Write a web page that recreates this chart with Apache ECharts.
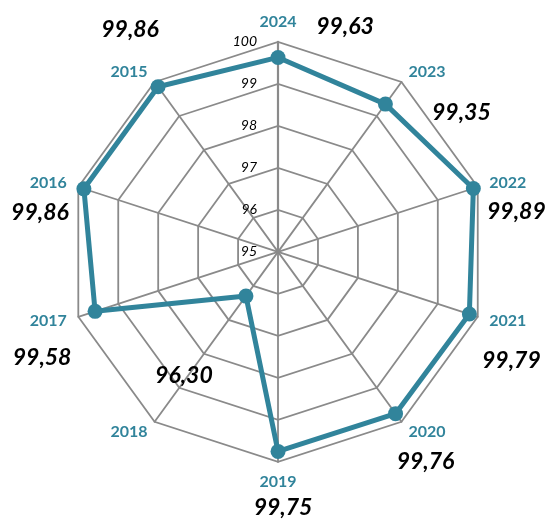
<!DOCTYPE html>
<html>
<head>
<meta charset="utf-8">
<script src="https://cdn.jsdelivr.net/npm/echarts@6/dist/echarts.min.js"></script>
<style>
html,body{margin:0;padding:0;background:#fff;}
#chart{width:550px;height:521px;}
</style>
</head>
<body>
<div id="chart"></div>
<script>
// ---- data ----
const years = ['2015', '2016', '2017', '2018', '2019', '2020', '2021', '2022', '2023', '2024'];
const values = [99.86, 99.86, 99.58, 96.30, 99.75, 99.76, 99.79, 99.89, 99.35, 99.63];
const tickValues = [95, 96, 97, 98, 99, 100];

// ---- layout / style (not data) ----
const labelOffsets = [[-28, -57], [-44, 24], [-53, 46], [-62, 80], [5, 56], [30, 48], [42, 47], [43, 23], [76, 8], [67, -31]];
const teal = '#31849B';
const gridGray = '#8a8a8a';
const center = ['50.55%', '48.35%'];
const radius = 210;
const fmt = v => v.toFixed(2).replace('.', ',');

const chart = echarts.init(document.getElementById('chart'), null, {renderer: 'canvas'});
const minV = tickValues[0], maxV = tickValues[tickValues.length - 1];

const option = {
  animation: false,
  backgroundColor: '#fff',
  radar: [
    {
      center: center,
      radius: radius,
      startAngle: 126,
      shape: 'polygon',
      splitNumber: tickValues.length - 1,
      indicator: years.map(y => ({name: y, min: minV, max: maxV})),
      axisName: {color: teal, fontFamily: 'Lato', fontWeight: 'bold', fontSize: 16},
      nameGap: 12,
      axisLine: {show: true, lineStyle: {color: gridGray, width: 1.8}},
      splitLine: {show: true, lineStyle: {color: gridGray, width: 1.8}},
      splitArea: {show: false},
      axisTick: {show: false},
      axisLabel: {show: false}
    },
    {
      center: center,
      radius: radius,
      startAngle: 90,
      shape: 'polygon',
      splitNumber: tickValues.length - 1,
      indicator: [{name: '', min: minV, max: maxV}],
      axisName: {show: false},
      axisLine: {show: true, lineStyle: {color: gridGray, width: 2.2}},
      splitLine: {show: false},
      splitArea: {show: false},
      axisTick: {show: false},
      axisLabel: {show: true, showMinLabel: true, showMaxLabel: true, margin: 21, color: '#000', fontFamily: 'Lato', fontStyle: 'italic', fontSize: 14}
    }
  ],
  series: [{
    type: 'radar',
    radarIndex: 0,
    symbol: 'circle',
    symbolSize: 15,
    lineStyle: {color: teal, width: 5},
    itemStyle: {color: teal},
    data: [{value: values, name: 'Wert'}]
  }]
};
chart.setOption(option);

function placeLabels() {
  let pts = null;
  try {
    const cs = chart.getModel().getComponent('radar', 0).coordinateSystem;
    pts = values.map((v, i) => cs.dataToPoint(v, i));
  } catch (e) {
    const cx = 550 * parseFloat(center[0]) / 100, cy = 521 * parseFloat(center[1]) / 100;
    pts = values.map((v, i) => {
      const a = (126 + i * 36) * Math.PI / 180;
      const r = (v - minV) / (maxV - minV) * radius;
      return [cx + r * Math.cos(a), cy - r * Math.sin(a)];
    });
  }
  chart.setOption({
    graphic: values.map((v, i) => ({
      type: 'text',
      x: pts[i][0] + labelOffsets[i][0],
      y: pts[i][1] + labelOffsets[i][1],
      z: 10,
      style: {
        text: fmt(v),
        align: 'center',
        verticalAlign: 'middle',
        fill: '#000',
        font: 'italic bold 23px Lato'
      }
    }))
  });
}
placeLabels();
</script>
</body>
</html>
